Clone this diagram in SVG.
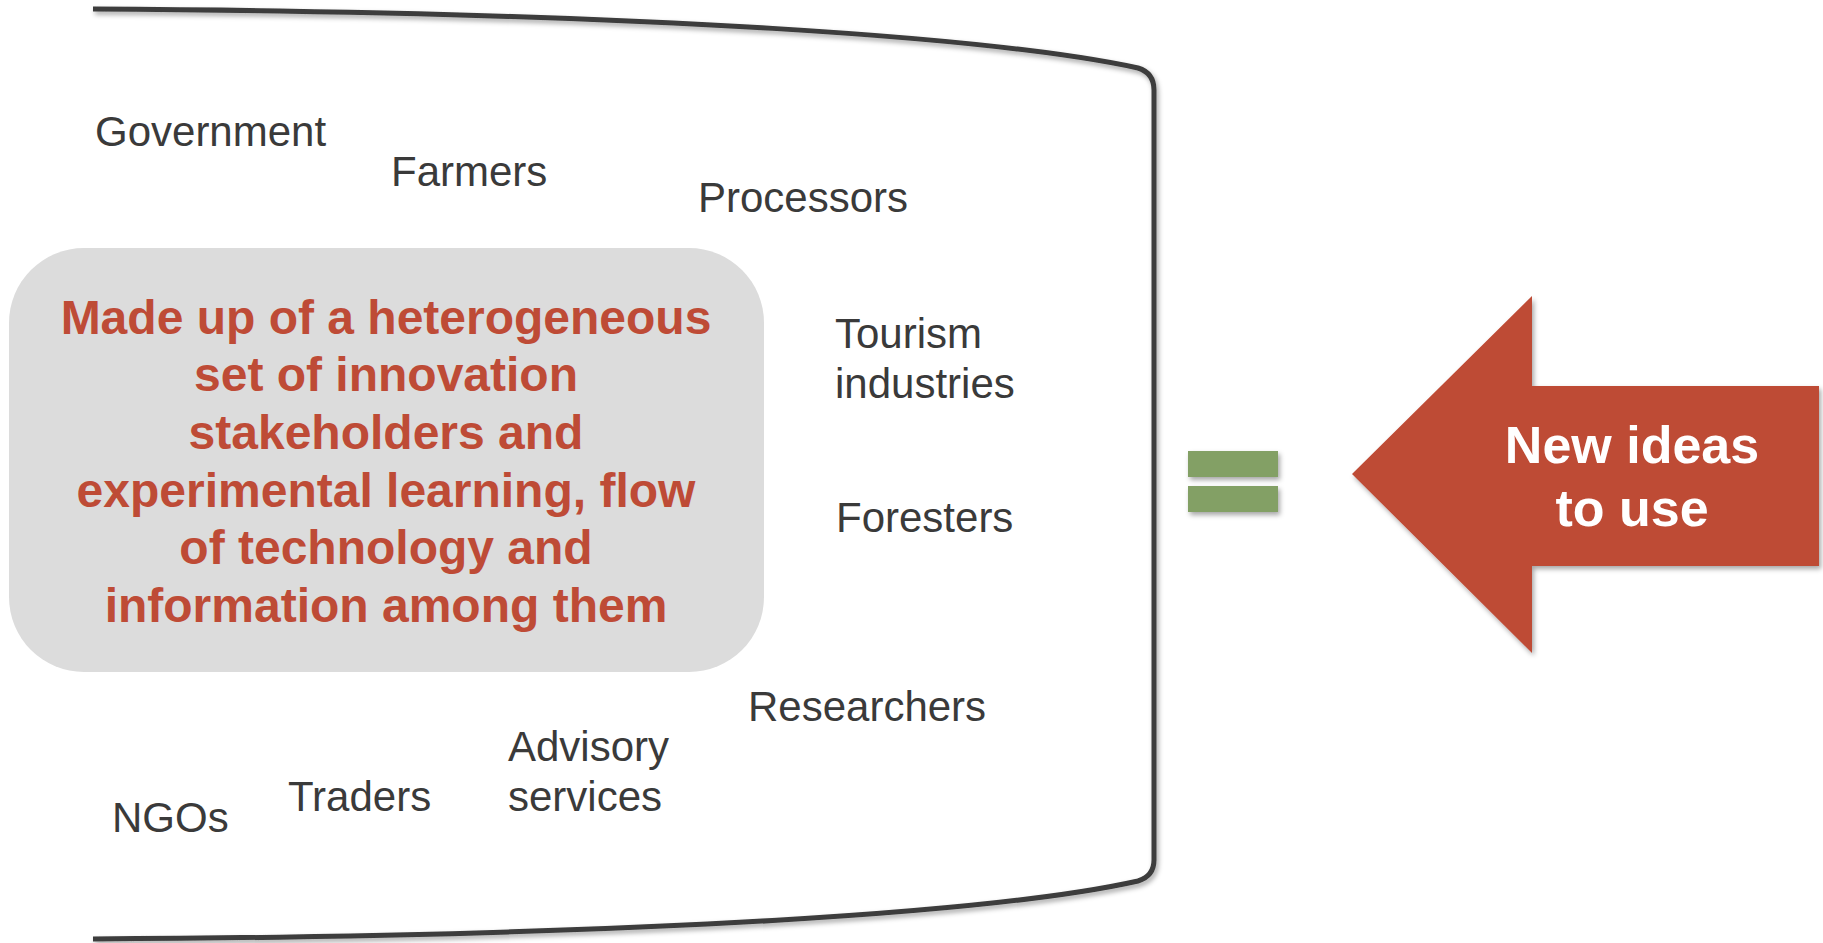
<svg xmlns="http://www.w3.org/2000/svg" width="1823" height="943" viewBox="0 0 1823 943">
<defs>
<style>
.lbl{font-family:"Liberation Sans",Arial,sans-serif;font-size:42px;fill:#3a3a3a}
.red{font-family:"Liberation Sans",Arial,sans-serif;font-size:48px;font-weight:bold;fill:#BE4B36;text-anchor:middle}
.wht{font-family:"Liberation Sans",Arial,sans-serif;font-size:52px;font-weight:bold;fill:#ffffff;text-anchor:middle}
</style>
<filter id="sh" x="-10%" y="-10%" width="130%" height="130%">
<feDropShadow dx="2" dy="3" stdDeviation="2.5" flood-color="#000" flood-opacity="0.35"/>
</filter>
</defs>
<rect width="1823" height="943" fill="#ffffff"/>
<g id="cylinder">
<path d="M 93 9 C 650 12, 1000 38, 1138 68 Q 1154 73 1154 90 L 1154 860 Q 1154 876 1138 881 C 1000 912, 650 936, 93 939" fill="none" stroke="#3c3c3c" stroke-width="5" filter="url(#sh)"/>
</g>
<g id="summary">
<rect x="9" y="248" width="755" height="424" rx="75" ry="75" fill="#DCDCDC"/>
<text class="red" x="386" y="334">Made up of a heterogeneous</text>
<text class="red" x="386" y="391">set of innovation</text>
<text class="red" x="386" y="449">stakeholders and</text>
<text class="red" x="386" y="507">experimental learning, flow</text>
<text class="red" x="386" y="564">of technology and</text>
<text class="red" x="386" y="622">information among them</text>
</g>
<g id="government"><text class="lbl" x="95" y="146">Government</text></g>
<g id="farmers"><text class="lbl" x="391" y="186">Farmers</text></g>
<g id="processors"><text class="lbl" x="698" y="212">Processors</text></g>
<g id="tourism"><text class="lbl" x="835" y="348">Tourism</text><text class="lbl" x="835" y="398">industries</text></g>
<g id="foresters"><text class="lbl" x="836" y="532">Foresters</text></g>
<g id="researchers"><text class="lbl" x="748" y="721">Researchers</text></g>
<g id="advisory"><text class="lbl" x="508" y="761">Advisory</text><text class="lbl" x="508" y="811">services</text></g>
<g id="traders"><text class="lbl" x="288" y="811">Traders</text></g>
<g id="ngos"><text class="lbl" x="112" y="832">NGOs</text></g>
<g id="equals" filter="url(#sh)">
<rect x="1188" y="451" width="90" height="26" fill="#83A065"/>
<rect x="1188" y="486" width="90" height="26" fill="#83A065"/>
</g>
<g id="new-ideas">
<polygon points="1352,474 1532,296 1532,386 1819,386 1819,566 1532,566 1532,653" fill="#BE4B36" filter="url(#sh)"/>
<text class="wht" x="1632" y="463">New ideas</text>
<text class="wht" x="1632" y="526">to use</text>
</g>
</svg>
